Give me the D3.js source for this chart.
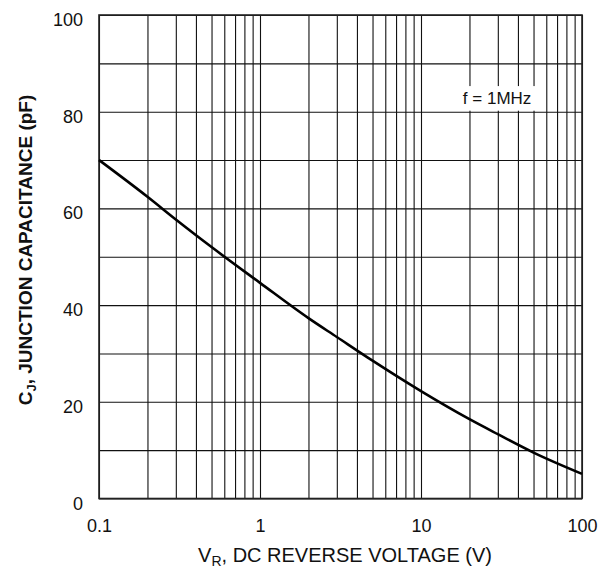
<!DOCTYPE html>
<html>
<head>
<meta charset="utf-8">
<script src="https://cdn.jsdelivr.net/npm/d3@7"></script>
<style>
    body { margin: 0; background: #fff; }
    text { font-family: "Liberation Sans", Arial, sans-serif; fill: #111; }
</style>
</head>
<body>
<div id="chart"></div>
<script>

// junction capacitance curve
var voltage = [0.1, 0.2, 0.3, 0.5, 1, 2, 3, 5, 10, 20, 30, 50, 100];
var capacitance = [70, 62.4, 57.7, 52.0, 44.6, 37.3, 33.4, 28.5, 22.2, 16.4, 13.3, 9.5, 5.1];

// axes
var xDecades = [0.1, 1, 10, 100];
var xLabels = ["0.1", "1", "10", "100"];
var minorMultiples = [1, 2, 3, 4, 5, 6, 7, 8, 9];
var yGrid = [0, 10, 20, 30, 40, 50, 60, 70, 80, 90, 100];
var yLabels = [0, 20, 40, 60, 80, 100];

var note = "f = 1MHz";

var width = 598,
    height = 570;

var margin = {top: 15, right: 16, bottom: 71.5, left: 99};

var x = d3.scaleLog()
    .domain([0.1, 100])
    .range([margin.left, width - margin.right]);

var y = d3.scaleLinear()
    .domain([0, 100])
    .range([height - margin.bottom, margin.top]);

var svg = d3.select("#chart")
    .append("svg")
    .attr("width", width)
    .attr("height", height);

// all vertical grid lines: 1..9 of every decade
var gridVolts = [];
xDecades.slice(0, 3).forEach(function (d) {
    minorMultiples.forEach(function (m) {
        gridVolts.push(d * m);
    });
});
gridVolts.push(100);

var plotH = y(0) - y(100),
    plotW = x(100) - x(0.1);

var gx = svg.append("g")
    .attr("transform", "translate(0," + y(0) + ")")
    .call(d3.axisBottom(x).tickValues(gridVolts).tickSize(-plotH).tickFormat(""));

var gy = svg.append("g")
    .attr("transform", "translate(" + x(0.1) + ",0)")
    .call(d3.axisLeft(y).tickValues(yGrid).tickSize(-plotW).tickFormat(""));

[gx, gy].forEach(function (g) {
    g.select(".domain").remove();
    g.selectAll(".tick line")
        .attr("stroke", "#111")
        .attr("stroke-width", 1.1);
});

// frame
svg.append("rect")
    .attr("x", x(0.1))
    .attr("y", y(100))
    .attr("width", plotW)
    .attr("height", plotH)
    .attr("fill", "none")
    .attr("stroke", "#222")
    .attr("stroke-width", 1.6);

// tick labels
var xl = svg.append("g")
    .attr("transform", "translate(0," + y(0) + ")")
    .call(d3.axisBottom(x).tickValues(xDecades).tickSize(0).tickPadding(0)
        .tickFormat(function (d, i) { return xLabels[i]; }));
xl.select(".domain").remove();
xl.selectAll("text")
    .attr("dy", null)
    .attr("y", 33.5)
    .style("font-size", "18px")
    .style("fill", "#111");

var yl = svg.append("g")
    .attr("transform", "translate(" + x(0.1) + ",0)")
    .call(d3.axisLeft(y).tickValues(yLabels).tickSize(0).tickPadding(0));
yl.select(".domain").remove();
yl.selectAll("text")
    .attr("dy", null)
    .attr("x", -16)
    .attr("y", 10.5)
    .style("font-size", "18px")
    .style("fill", "#111");

// curve
var line = d3.line()
    .x(function (d, i) { return x(voltage[i]); })
    .y(function (d) { return y(d); })
    .curve(d3.curveMonotoneX);

svg.append("path")
    .attr("d", line(capacitance))
    .attr("fill", "none")
    .attr("stroke", "#000")
    .attr("stroke-width", 2.6);

// frequency note with white box behind it
var noteG = svg.append("g");
var noteBox = noteG.append("rect").attr("fill", "#fff");
var noteText = noteG.append("text")
    .attr("x", x(18.2))
    .attr("y", y(81.6))
    .style("font-size", "17px")
    .text(note);
var bb = noteText.node().getBBox();
noteBox
    .attr("x", bb.x - 4)
    .attr("y", y(85.3))
    .attr("width", bb.width + 8)
    .attr("height", y(80) - y(85.3) - 1);

// axis titles
var xt = svg.append("text")
    .attr("x", 345)
    .attr("y", 562)
    .attr("text-anchor", "middle")
    .style("font-size", "20px");
xt.append("tspan").text("V");
xt.append("tspan").attr("dy", 4).style("font-size", "14px").text("R");
xt.append("tspan").attr("dy", -4).text(", DC REVERSE VOLTAGE (V)");

var yt = svg.append("text")
    .attr("transform", "translate(32,250) rotate(-90)")
    .attr("text-anchor", "middle")
    .style("font-size", "19px")
    .style("font-weight", "bold");
yt.append("tspan").text("C");
yt.append("tspan").attr("dy", 4).style("font-size", "13px").text("J");
yt.append("tspan").attr("dy", -4).text(", JUNCTION CAPACITANCE (pF)");

</script>
</body>
</html>
